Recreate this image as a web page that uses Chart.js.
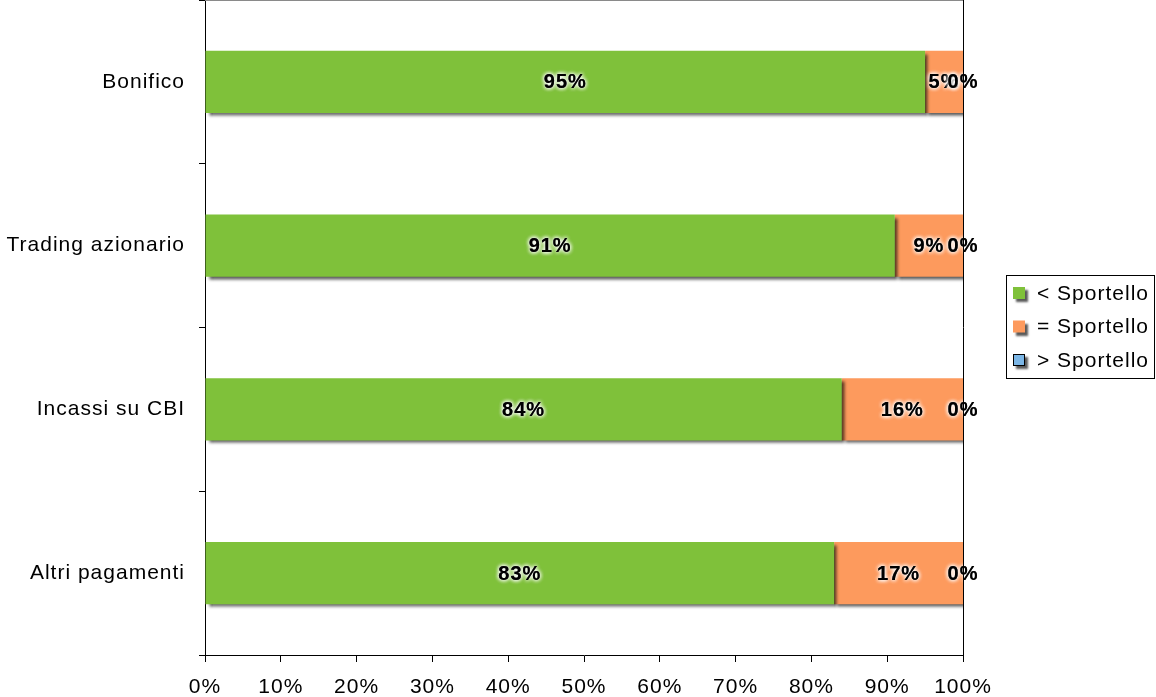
<!DOCTYPE html>
<html><head><meta charset="utf-8">
<script src="https://cdn.jsdelivr.net/npm/chart.js@4/dist/chart.umd.min.js"></script>
<style>html,body{margin:0;padding:0;background:#fff}#wrap{width:1156px;height:697px;position:relative}</style>
</head><body><div id="wrap"><canvas id="c" width="1156" height="697"></canvas></div>
<script>
const categories = ["Bonifico", "Trading azionario", "Incassi su CBI", "Altri pagamenti"];
const seriesNames = ["< Sportello", "= Sportello", "> Sportello"];
const lessValues = [95, 91, 84, 83];
const equalValues = [5, 9, 16, 17];
const greaterValues = [0, 0, 0, 0];
const xTicks = [0, 10, 20, 30, 40, 50, 60, 70, 80, 90, 100];
const colors = ["#7FC13A", "#FD9A5D", "#7BB6E6"];

const FONT = "'Liberation Sans', Arial, sans-serif";

const spacingPlugin = {
  id: 'spacing',
  beforeDraw(chart) { chart.ctx.letterSpacing = '1px'; }
};

const shadowPlugin = {
  id: 'barShadow',
  beforeDatasetDraw(chart) {
    const ctx = chart.ctx; ctx.save();
    ctx.shadowColor = 'rgba(0,0,0,0.65)';
    ctx.shadowOffsetX = 3; ctx.shadowOffsetY = 3; ctx.shadowBlur = 3;
  },
  afterDatasetDraw(chart) { chart.ctx.restore(); }
};

const labelPlugin = {
  id: 'segLabels',
  afterDatasetsDraw(chart) {
    const ctx = chart.ctx;
    ctx.save();
    ctx.letterSpacing = '1px';
    ctx.font = "bold 20px " + FONT;
    ctx.textAlign = 'center'; ctx.textBaseline = 'middle';
    chart.data.datasets.forEach((ds, di) => {
      const meta = chart.getDatasetMeta(di);
      meta.data.forEach((bar, i) => {
        const p = bar.getProps(['x', 'y', 'base'], true);
        const cx = (p.x + p.base) / 2;
        const txt = ds.data[i] + '%';
        ctx.shadowColor = 'rgba(255,255,255,1)';
        ctx.shadowBlur = 4; ctx.shadowOffsetX = 0; ctx.shadowOffsetY = 0;
        ctx.fillStyle = '#000';
        for (let k = 0; k < 3; k++) ctx.fillText(txt, cx, p.y + 1);
      });
    });
    ctx.restore();
  }
};

const framePlugin = {
  id: 'frame',
  afterDraw(chart) {
    const ctx = chart.ctx, a = chart.chartArea;
    ctx.save();
    ctx.strokeStyle = '#000'; ctx.lineWidth = 1;
    ctx.beginPath();
    ctx.moveTo(Math.round(a.right) + 0.5, a.top);
    ctx.lineTo(Math.round(a.right) + 0.5, a.bottom);
    ctx.stroke();
    ctx.strokeStyle = '#8a8a8a';
    ctx.beginPath();
    ctx.moveTo(a.left, a.top + 0.5);
    ctx.lineTo(a.right, a.top + 0.5);
    ctx.stroke();
    // legend
    ctx.strokeStyle = '#000';
    const lx = 1006, ly = 275, lw = 148, lh = 103;
    ctx.strokeRect(lx + 0.5, ly + 0.5, lw, lh);
    ctx.letterSpacing = '1px';
    ctx.font = "21px " + FONT;
    ctx.textBaseline = 'middle'; ctx.textAlign = 'left';
    seriesNames.forEach((name, i) => {
      const cy = 293 + i * 33.5;
      ctx.save();
      ctx.shadowColor = 'rgba(0,0,0,0.65)';
      ctx.shadowOffsetX = 3; ctx.shadowOffsetY = 3; ctx.shadowBlur = 2;
      ctx.fillStyle = colors[i];
      ctx.fillRect(1013, cy - 6, 12, 12);
      ctx.restore();
      if (i === 2) { ctx.strokeStyle = '#000'; ctx.strokeRect(1013.5, cy - 5.5, 11, 11); }
      ctx.fillStyle = '#000';
      ctx.fillText(name, 1037, cy + 1);
    });
    ctx.restore();
  }
};

new Chart(document.getElementById('c'), {
  type: 'bar',
  data: {
    labels: categories,
    datasets: [
      { label: seriesNames[0], data: lessValues, backgroundColor: colors[0] },
      { label: seriesNames[1], data: equalValues, backgroundColor: colors[1] },
      { label: seriesNames[2], data: greaterValues, backgroundColor: colors[2] }
    ]
  },
  options: {
    indexAxis: 'y',
    responsive: false,
    animation: false,
    layout: { padding: { top: 0, right: 193, left: 0, bottom: 0 } },
    datasets: { bar: { categoryPercentage: 0.38, barPercentage: 1, borderWidth: 0 } },
    plugins: { legend: { display: false }, tooltip: { enabled: false } },
    scales: {
      x: {
        stacked: true, min: 0, max: 100,
        afterBuildTicks(s) { s.ticks = xTicks.map(v => ({ value: v })); },
        afterFit(s) { s.height = 42; },
        ticks: { callback: v => v + '%', color: '#000', font: { family: FONT, size: 21 }, padding: 13, maxRotation: 0, autoSkip: false },
        grid: { drawOnChartArea: false, color: '#000', tickLength: 7, tickColor: '#000' },
        border: { color: '#000', width: 1 }
      },
      y: {
        stacked: true,
        afterFit(s) { s.width = 205; s.paddingTop = 0; s.paddingBottom = 0; },
        ticks: { color: '#000', font: { family: FONT, size: 21 }, padding: 14 },
        grid: { drawOnChartArea: false, offset: true, tickLength: 6, tickColor: '#000', color: '#000' },
        border: { color: '#000', width: 1 }
      }
    }
  },
  plugins: [spacingPlugin, shadowPlugin, labelPlugin, framePlugin]
});
</script></body></html>
